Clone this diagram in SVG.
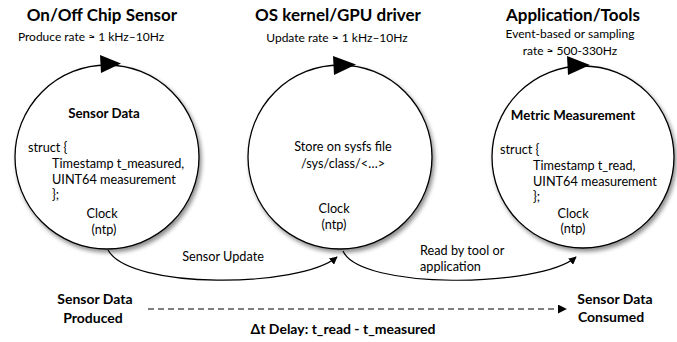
<svg xmlns="http://www.w3.org/2000/svg" width="677" height="342" viewBox="0 0 677 342">
  <defs>
    <filter id="shadow" x="-20%" y="-20%" width="140%" height="140%">
      <feDropShadow dx="2" dy="3" stdDeviation="2" flood-color="#000" flood-opacity="0.45"/>
    </filter>
    <marker id="arrow" viewBox="0 0 10 10" refX="9" refY="5" markerWidth="8" markerHeight="8" markerUnits="userSpaceOnUse" orient="auto">
      <path d="M0,0 L10,5 L0,10 z" fill="#000"/>
    </marker>
    <marker id="arrowDash" viewBox="0 0 10 10" refX="9" refY="5" markerWidth="9" markerHeight="9" markerUnits="userSpaceOnUse" orient="auto">
      <path d="M0,0 L10,5 L0,10 z" fill="#000"/>
    </marker>
  </defs>
  <style>
    text { font-family: Lato, "Liberation Sans", sans-serif; fill: #000; }
    .title { font-size: 17px; font-weight: bold; text-anchor: middle; }
    .sub { font-size: 12px; text-anchor: middle; }
    .body { font-size: 12.7px; }
    .head { font-size: 13.3px; font-weight: bold; text-anchor: middle; }
    .label { font-size: 14px; font-weight: bold; text-anchor: middle; }
    .mid { text-anchor: middle; }
    .circle { fill: #fff; stroke: #000; stroke-width: 1.3; filter: url(#shadow); }
    .conn { fill: none; stroke: #000; stroke-width: 1.2; }
  </style>
  <rect width="677" height="342" fill="#fff"/>

  <!-- Column headers -->
  <text class="title" x="102" y="21">On/Off Chip Sensor</text>
  <text class="sub" x="91" y="41">Produce rate ≈ 1 kHz–10Hz</text>
  <text class="title" x="338" y="21">OS kernel/GPU driver</text>
  <text class="sub" x="337" y="42">Update rate ≈ 1 kHz–10Hz</text>
  <text class="title" x="573" y="21">Application/Tools</text>
  <text class="sub" x="570" y="38">Event-based or sampling</text>
  <text class="sub" x="570" y="55">rate ≈ 500-330Hz</text>

  <!-- Node: sensor -->
  <g id="sensor">
    <circle class="circle" cx="107" cy="157" r="92"/>
    <polygon points="100,55 121,63.5 101,73" fill="#000"/>
    <text class="head" x="104" y="118">Sensor Data</text>
    <text class="body" x="28" y="152">struct {</text>
    <text class="body" x="52" y="168">Timestamp  t_measured,</text>
    <text class="body" x="52" y="184">UINT64 measurement</text>
    <text class="body" x="52" y="199">};</text>
    <text class="body mid" x="102" y="218">Clock</text>
    <text class="body mid" x="104" y="234">(ntp)</text>
  </g>

  <!-- Node: kernel driver -->
  <g id="driver">
    <circle class="circle" cx="340" cy="157" r="92"/>
    <polygon points="333,56 356,64.5 334,75" fill="#000"/>
    <text class="body mid" x="343" y="151">Store on sysfs file</text>
    <text class="body mid" x="343" y="168">/sys/class/&lt;…&gt;</text>
    <text class="body mid" x="334" y="213">Clock</text>
    <text class="body mid" x="334" y="229">(ntp)</text>
  </g>

  <!-- Node: application -->
  <g id="application">
    <circle class="circle" cx="583" cy="157" r="91"/>
    <polygon points="567,56 590,65 568,75" fill="#000"/>
    <text class="head" x="573" y="120">Metric Measurement</text>
    <text class="body" x="500" y="154">struct {</text>
    <text class="body" x="533" y="170">Timestamp t_read,</text>
    <text class="body" x="533" y="186">UINT64 measurement</text>
    <text class="body" x="533" y="201">};</text>
    <text class="body mid" x="573" y="218">Clock</text>
    <text class="body mid" x="573" y="233">(ntp)</text>
  </g>

  <!-- Connectors -->
  <g id="connectors">
    <path class="conn" d="M108,250 C130,290 300,288 337,257" marker-end="url(#arrow)"/>
    <path class="conn" d="M343,251 C360,290 540,288 576,257" marker-end="url(#arrow)"/>
    <line class="conn" x1="148" y1="309" x2="566" y2="309" stroke-dasharray="6,4" stroke-width="1.6" marker-end="url(#arrowDash)"/>
    <text class="body mid" x="223" y="261">Sensor Update</text>
    <text class="body" x="420" y="255">Read by tool or</text>
    <text class="body" x="420" y="271">application</text>
  </g>

  <!-- Timeline labels -->
  <text class="label" x="95" y="304">Sensor Data</text>
  <text class="label" x="93" y="323">Produced</text>
  <text class="label" x="615" y="304">Sensor Data</text>
  <text class="label" x="611" y="322">Consumed</text>
  <text class="label" x="343" y="334">Δt Delay: t_read - t_measured</text>
</svg>
